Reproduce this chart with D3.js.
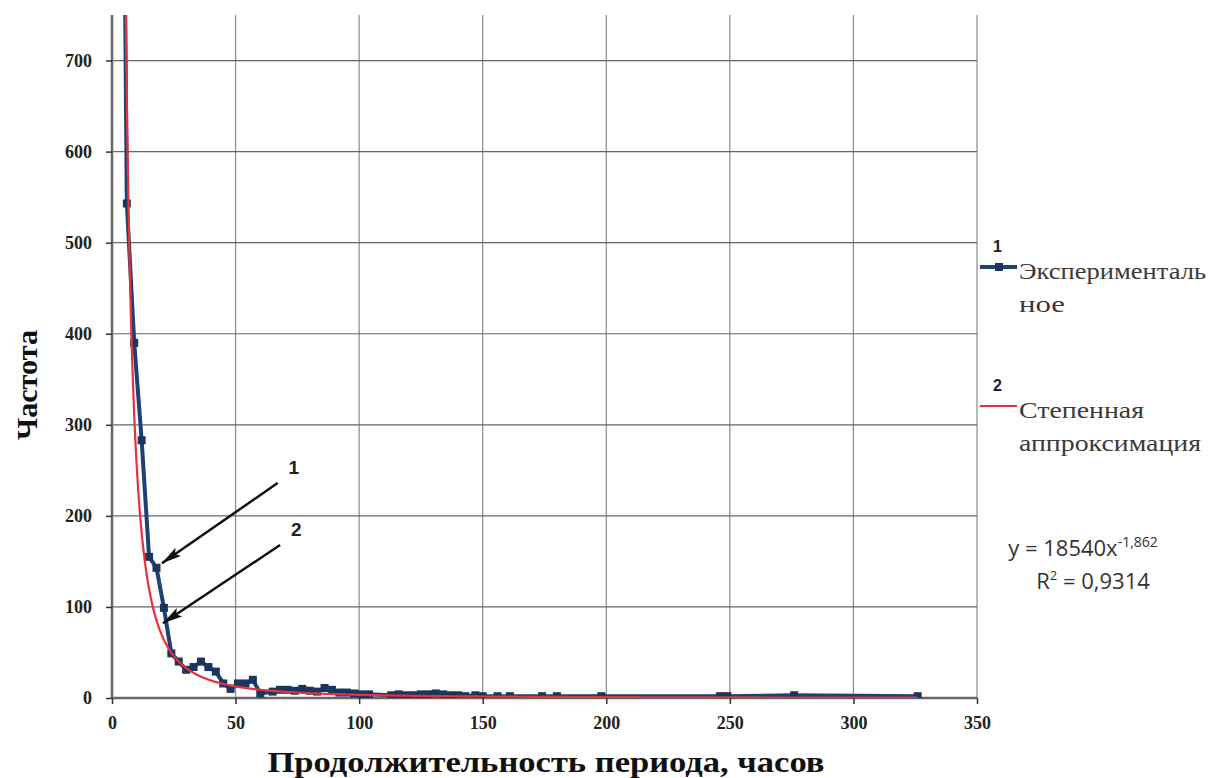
<!DOCTYPE html>
<html>
<head>
<meta charset="utf-8">
<script src="https://cdn.jsdelivr.net/npm/d3@7"></script>
<style>
  body { margin: 0; background: #fff; }
  svg { display: block; }
</style>
</head>
<body>
<div id="chart-area"></div>
<script>
// SVG Size
var width = 1217,
    height = 778;

// experimental series: period length (hours) and frequency
var hours = [3, 6, 9, 12, 15, 18, 21, 24, 27, 30, 33, 36, 39, 42, 45, 48, 51, 54, 57, 60,
  65, 68, 71, 74, 77, 80, 83, 86, 89, 92, 95, 98, 101, 104, 113, 116, 119, 122, 125, 128,
  131, 134, 137, 140, 143, 147, 150, 156, 161, 174, 180, 198, 246, 249, 276, 326];
var freq = [1500, 543, 390, 283, 155, 143, 99, 49, 40, 31, 34, 40, 34, 29, 16, 10, 16, 16, 20, 5,
  7, 9, 9, 8, 10, 8, 7, 11, 9, 6, 6, 5, 4, 4, 3, 4, 3, 3, 4, 4,
  5, 4, 3, 3, 2, 3, 2, 2, 2, 2, 2, 2, 2, 2, 3, 2];

// power trend line y = a * x^b
var fitA = 18540, fitB = -1.862;

var xTicks = [0, 50, 100, 150, 200, 250, 300, 350];
var yTicks = [0, 100, 200, 300, 400, 500, 600, 700];

var legendLabels = [["Эксперименталь", "ное"], ["Степенная", "аппроксимация"]];
var legendWidths = [[187, 46], [125, 182]];

// annotation arrows: [label, tail x, tail y, head x, head y] in data units
var arrows = [["1", 67, 236, 20.2, 148], ["2", 68, 168, 20.6, 82]];

var blue = "#1d4173", red = "#e5323b";
var serif = "Liberation Serif, DejaVu Serif, serif";

var svg = d3.select("#chart-area").append("svg")
  .attr("width", width)
  .attr("height", height);

var x = d3.scaleLinear().domain([0, 350]).range([112, 977]);
var y = d3.scaleLinear().domain([0, 750]).range([698, 15]);

// grid
svg.append("g").selectAll("line.v")
  .data(xTicks.slice(1))
  .enter().append("line")
  .attr("x1", function(d) { return x(d); })
  .attr("x2", function(d) { return x(d); })
  .attr("y1", y(750)).attr("y2", y(0))
  .attr("stroke", "#8a8a8a").attr("stroke-width", 1.2);

svg.append("g").selectAll("line.h")
  .data(yTicks.slice(1))
  .enter().append("line")
  .attr("x1", x(0)).attr("x2", x(350))
  .attr("y1", function(d) { return y(d); })
  .attr("y2", function(d) { return y(d); })
  .attr("stroke", "#666").attr("stroke-width", 1.2);

// axes
var xAxis = svg.append("g")
  .attr("transform", "translate(0," + y(0) + ")")
  .call(d3.axisBottom(x).tickValues(xTicks).tickSize(6).tickPadding(12));
var yAxis = svg.append("g")
  .attr("transform", "translate(" + x(0) + ",0)")
  .call(d3.axisLeft(y).tickValues(yTicks).tickSize(6).tickPadding(14));

[xAxis, yAxis].forEach(function(a) {
  a.select(".domain").attr("stroke", "#666").attr("stroke-width", 2.5);
  a.selectAll(".tick line").attr("stroke", "#333").attr("stroke-width", 1.5);
  a.selectAll(".tick text")
    .attr("fill", "#222")
    .attr("font-family", serif)
    .attr("font-weight", "bold")
    .attr("font-size", "18px");
});
yAxis.select(".domain").attr("d", "M0," + y(750) + "V" + y(0));
xAxis.select(".domain").attr("d", "M" + x(0) + ",0H" + x(350));

// clip to plot area
svg.append("clipPath").attr("id", "plot")
  .append("rect")
  .attr("x", x(0)).attr("y", y(750))
  .attr("width", x(350) - x(0)).attr("height", y(0) - y(750));

var data = hours.map(function(h, i) { return { h: h, f: freq[i] }; });

var plot = svg.append("g").attr("clip-path", "url(#plot)");

plot.append("path")
  .datum(data)
  .attr("fill", "none")
  .attr("stroke", blue)
  .attr("stroke-width", 4)
  .attr("d", d3.line().x(function(d) { return x(d.h); }).y(function(d) { return y(d.f); }));

plot.selectAll("rect.m")
  .data(data)
  .enter().append("rect")
  .attr("x", function(d) { return x(d.h) - 4; })
  .attr("y", function(d) { return y(d.f) - 4; })
  .attr("width", 8).attr("height", 8)
  .attr("fill", "#1a3560");

// trend line
var fitX = d3.range(5.4, 326.01, 0.2);
plot.append("path")
  .datum(fitX)
  .attr("fill", "none")
  .attr("stroke", red)
  .attr("stroke-width", 2.2)
  .attr("d", d3.line()
    .x(function(d) { return x(d); })
    .y(function(d) { return y(fitA * Math.pow(d, fitB)); }));

// annotations
svg.append("defs").append("marker")
  .attr("id", "head")
  .attr("viewBox", "0 0 20 10")
  .attr("refX", 20).attr("refY", 5)
  .attr("markerWidth", 20).attr("markerHeight", 10)
  .attr("markerUnits", "userSpaceOnUse")
  .attr("orient", "auto")
  .append("path").attr("d", "M0,0L20,5L0,10L4,5Z").attr("fill", "#111");

arrows.forEach(function(a) {
  svg.append("line")
    .attr("x1", x(a[1])).attr("y1", y(a[2]))
    .attr("x2", x(a[3])).attr("y2", y(a[4]))
    .attr("stroke", "#111").attr("stroke-width", 2.5)
    .attr("marker-end", "url(#head)");
  svg.append("text")
    .attr("x", x(a[1]) + 11).attr("y", y(a[2]) - 9)
    .attr("fill", "#222")
    .attr("font-family", "Liberation Sans, Arial, sans-serif")
    .attr("font-weight", "bold").attr("font-size", "19px")
    .text(a[0]);
});

// legend
var legend = svg.append("g");
legendLabels.forEach(function(lines, i) {
  var g = legend.append("g").attr("transform", "translate(0," + (i * 139) + ")");
  g.append("text")
    .attr("x", 993).attr("y", 252)
    .attr("fill", "#222")
    .attr("font-family", "Liberation Sans, Arial, sans-serif")
    .attr("font-weight", "bold").attr("font-size", "16px")
    .text(String(i + 1));
  g.append("line")
    .attr("x1", 980).attr("x2", 1017).attr("y1", 267).attr("y2", 267)
    .attr("stroke", i === 0 ? blue : red)
    .attr("stroke-width", i === 0 ? 4 : 2);
  if (i === 0) {
    g.append("rect").attr("x", 995).attr("y", 263).attr("width", 8).attr("height", 8).attr("fill", "#1a3560");
  }
  lines.forEach(function(t, j) {
    g.append("text")
      .attr("x", 1019).attr("y", 279 + j * 33)
      .attr("fill", "#3a3a3a")
      .attr("font-family", serif)
      .attr("font-weight", "normal")
      .attr("font-size", "23px")
      .attr("textLength", legendWidths[i][j])
      .attr("lengthAdjust", "spacingAndGlyphs")
      .text(t);
  });
});

// equation
var eq = svg.append("text")
  .attr("x", 1083).attr("y", 556)
  .attr("text-anchor", "middle")
  .attr("fill", "#333")
  .attr("font-family", "Open Sans, Liberation Sans, sans-serif")
  .attr("font-size", "22px");
eq.append("tspan").text("y = 18540x");
eq.append("tspan").attr("dy", -9).attr("font-size", "14px").text("-1,862");

var r2 = svg.append("text")
  .attr("x", 1093).attr("y", 589)
  .attr("text-anchor", "middle")
  .attr("fill", "#333")
  .attr("font-family", "Open Sans, Liberation Sans, sans-serif")
  .attr("font-size", "22px");
r2.append("tspan").text("R");
r2.append("tspan").attr("dy", -9).attr("font-size", "13px").text("2");
r2.append("tspan").attr("dy", 9).text(" = 0,9314");

// axis titles
svg.append("text")
  .attr("transform", "translate(37,385) rotate(-90)")
  .attr("text-anchor", "middle")
  .attr("fill", "#111")
  .attr("font-family", serif)
  .attr("font-weight", "bold").attr("font-size", "30px")
  .attr("textLength", 110).attr("lengthAdjust", "spacingAndGlyphs")
  .text("Частота");

svg.append("text")
  .attr("x", 546).attr("y", 772)
  .attr("text-anchor", "middle")
  .attr("fill", "#111")
  .attr("font-family", serif)
  .attr("font-weight", "bold").attr("font-size", "29px")
  .attr("textLength", 557).attr("lengthAdjust", "spacingAndGlyphs")
  .text("Продолжительность периода, часов");
</script>
</body>
</html>
